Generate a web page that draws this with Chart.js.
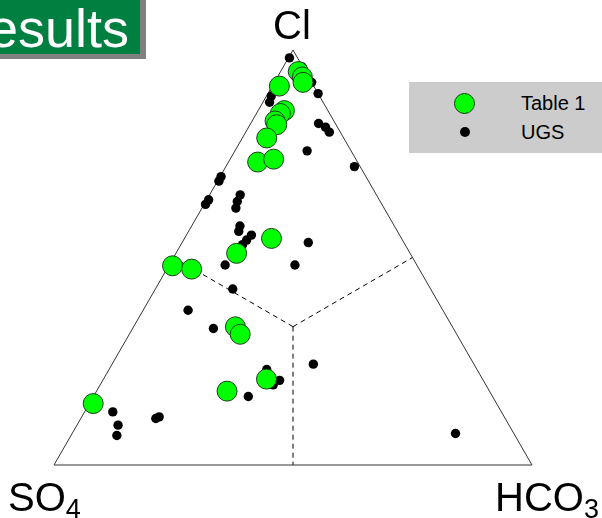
<!DOCTYPE html>
<html>
<head>
<meta charset="utf-8">
<script src="https://cdn.jsdelivr.net/npm/chart.js@4/dist/chart.umd.min.js"></script>
<style>
  html, body { margin: 0; padding: 0; background: #ffffff; }
  body { width: 602px; height: 518px; position: relative; overflow: hidden; font-family: Arial, "Liberation Sans", sans-serif; }
  #wrap { position: absolute; left: 0; top: 0; width: 602px; height: 518px; }
  .lbl { position: absolute; font-size: 40px; line-height: 40px; color: #000; white-space: nowrap; }
  .lbl sub { font-size: 27px; vertical-align: -7px; line-height: 0; }
  #titleShadow { position: absolute; left: 0; top: 0; width: 146px; height: 59px; background: #808080; }
  #titleBox { position: absolute; left: 0; top: 0; width: 140px; height: 54px; background: #008040; overflow: hidden; }
  #titleText { position: absolute; right: 11px; top: 1px; font-size: 54px; line-height: 54px; color: #fff; white-space: nowrap; }
  #legend { position: absolute; left: 409px; top: 82px; width: 193px; height: 71px; background: #cccccc; }
  .lg-item { position: absolute; left: 112px; font-size: 20px; line-height: 20px; color: #000; white-space: nowrap; }
  .mk { position: absolute; border-radius: 50%; box-sizing: border-box; }
</style>
</head>
<body>
<div id="wrap"><canvas id="c" width="602" height="518"></canvas></div>
<div id="titleShadow"></div>
<div id="titleBox"><span id="titleText">Results</span></div>
<div class="lbl" style="left:273px; top:5px;">Cl</div>
<div class="lbl" style="left:8px; top:477px;">SO<sub>4</sub></div>
<div class="lbl" style="left:495px; top:477px;">HCO<sub>3</sub></div>
<div id="legend">
  <div class="mk" style="left:45px; top:11px; width:21px; height:21px; background:#00ff00; border:1px solid #1e3a1e;"></div>
  <div class="lg-item" style="top:11px;">Table 1</div>
  <div class="mk" style="left:51px; top:45px; width:10px; height:10px; background:#000;"></div>
  <div class="lg-item" style="top:40px;">UGS</div>
</div>
<script>
// Ternary compositions (percent)
const seriesNames = ["Table 1", "UGS"];
const axisLabels = ["Cl", "SO4", "HCO3"];

const tableCl   = [94.8, 93.5, 92.2, 91.3, 85.4, 84.7, 82.9, 82.0, 78.8, 73.0, 73.7, 54.6, 51.0, 48.0, 47.2, 33.3, 31.5, 20.7, 17.8, 14.8];
const tableHCO3 = [ 3.7,  5.2,  6.0,  1.5,  5.5,  5.0,  4.8,  5.6,  5.1,  6.1,  9.1, 18.2, 12.7,  0.8,  5.2, 21.3, 23.2, 34.1, 27.3,  0.8];
const tableSO4  = [ 1.5,  1.3,  1.8,  7.2,  9.1, 10.3, 12.3, 12.4, 16.1, 20.9, 17.2, 27.2, 36.3, 51.2, 47.6, 45.4, 45.3, 45.2, 54.9, 84.4];

const ugsCl   = [98.1, 95.9, 92.2, 89.5, 88.9, 87.4, 82.3, 81.4, 80.2, 75.7, 71.9, 69.5, 68.4, 63.9, 62.8, 65.1, 63.5, 61.9, 57.6, 56.3, 55.4, 54.2, 53.1, 48.2, 53.6, 48.2, 42.4, 37.3, 32.9, 23.0, 20.4, 19.3, 16.5, 24.3,  7.6, 12.8,  9.6,  7.1, 11.2, 11.6];
const ugsHCO3 = [ 0.2,  4.0,  7.8, 10.5,  1.0,  1.4, 14.2, 16.1, 17.5, 15.1, 26.9,  0.2,  0.3,  0.4,  0.3,  6.4,  6.6,  7.1, 10.1, 10.5, 13.6, 13.2, 12.9, 11.7, 26.4, 26.3, 16.2,  9.4, 16.9, 33.0, 37.0, 36.2, 32.4, 42.1, 80.2,  5.9,  8.6,  9.6, 15.7, 16.2];
const ugsSO4  = [ 1.7,  0.1,  0.0,  0.0, 10.1, 11.2,  3.5,  2.5,  2.3,  9.2,  1.2, 30.3, 31.3, 35.7, 36.9, 28.5, 29.9, 31.0, 32.3, 33.2, 31.0, 32.6, 34.0, 40.1, 20.0, 25.5, 41.4, 53.3, 50.2, 44.0, 42.6, 44.5, 51.1, 33.6, 12.2, 81.3, 81.8, 83.3, 73.1, 72.2];

// ternary -> cartesian (SO4 at left, HCO3 at right, Cl at apex)
function toXY(cl, so4, hco3) {
  const s = cl + so4 + hco3;
  return { x: (hco3 + cl / 2) / s, y: cl / s };
}
const tablePts = tableCl.map((v, i) => toXY(v, tableSO4[i], tableHCO3[i]));
const ugsPts = ugsCl.map((v, i) => toXY(v, ugsSO4[i], ugsHCO3[i]));

// frame: triangle corners and the dashed lines from centroid to side midpoints
const frame = [toXY(0, 100, 0), toXY(100, 0, 0), toXY(0, 0, 100), toXY(0, 100, 0)];
const centroid = toXY(1, 1, 1);
const guides = [
  [centroid, toXY(50, 50, 0)],
  [centroid, toXY(50, 0, 50)],
  [centroid, toXY(0, 50, 50)]
];

const lineDs = (pts, dash, color) => ({
  type: 'line', data: pts, borderColor: color, borderWidth: 1, borderDash: dash,
  pointRadius: 0, showLine: true, fill: false, tension: 0, clip: false, order: 10
});

new Chart(document.getElementById('c'), {
  type: 'scatter',
  data: {
    datasets: [
      { label: seriesNames[0], data: tablePts, backgroundColor: '#00ff00', borderColor: '#1e3a1e', borderWidth: 1, pointRadius: 10, clip: false, order: 0 },
      { label: seriesNames[1], data: ugsPts, backgroundColor: '#000000', borderColor: '#000000', borderWidth: 0, pointRadius: 4.7, clip: false, order: 1 },
      lineDs(frame, [], '#333333'),
      lineDs(guides[0], [5, 4], '#000000'),
      lineDs(guides[1], [5, 4], '#000000'),
      lineDs(guides[2], [5, 4], '#000000')
    ]
  },
  options: {
    responsive: false,
    animation: false,
    devicePixelRatio: 1,
    layout: { padding: { left: 54, right: 70, top: 50, bottom: 53 } },
    scales: {
      x: { type: 'linear', min: 0, max: 1, display: false },
      y: { type: 'linear', min: 0, max: 1, display: false }
    },
    plugins: { legend: { display: false }, tooltip: { enabled: false } }
  }
});
</script>
</body>
</html>
